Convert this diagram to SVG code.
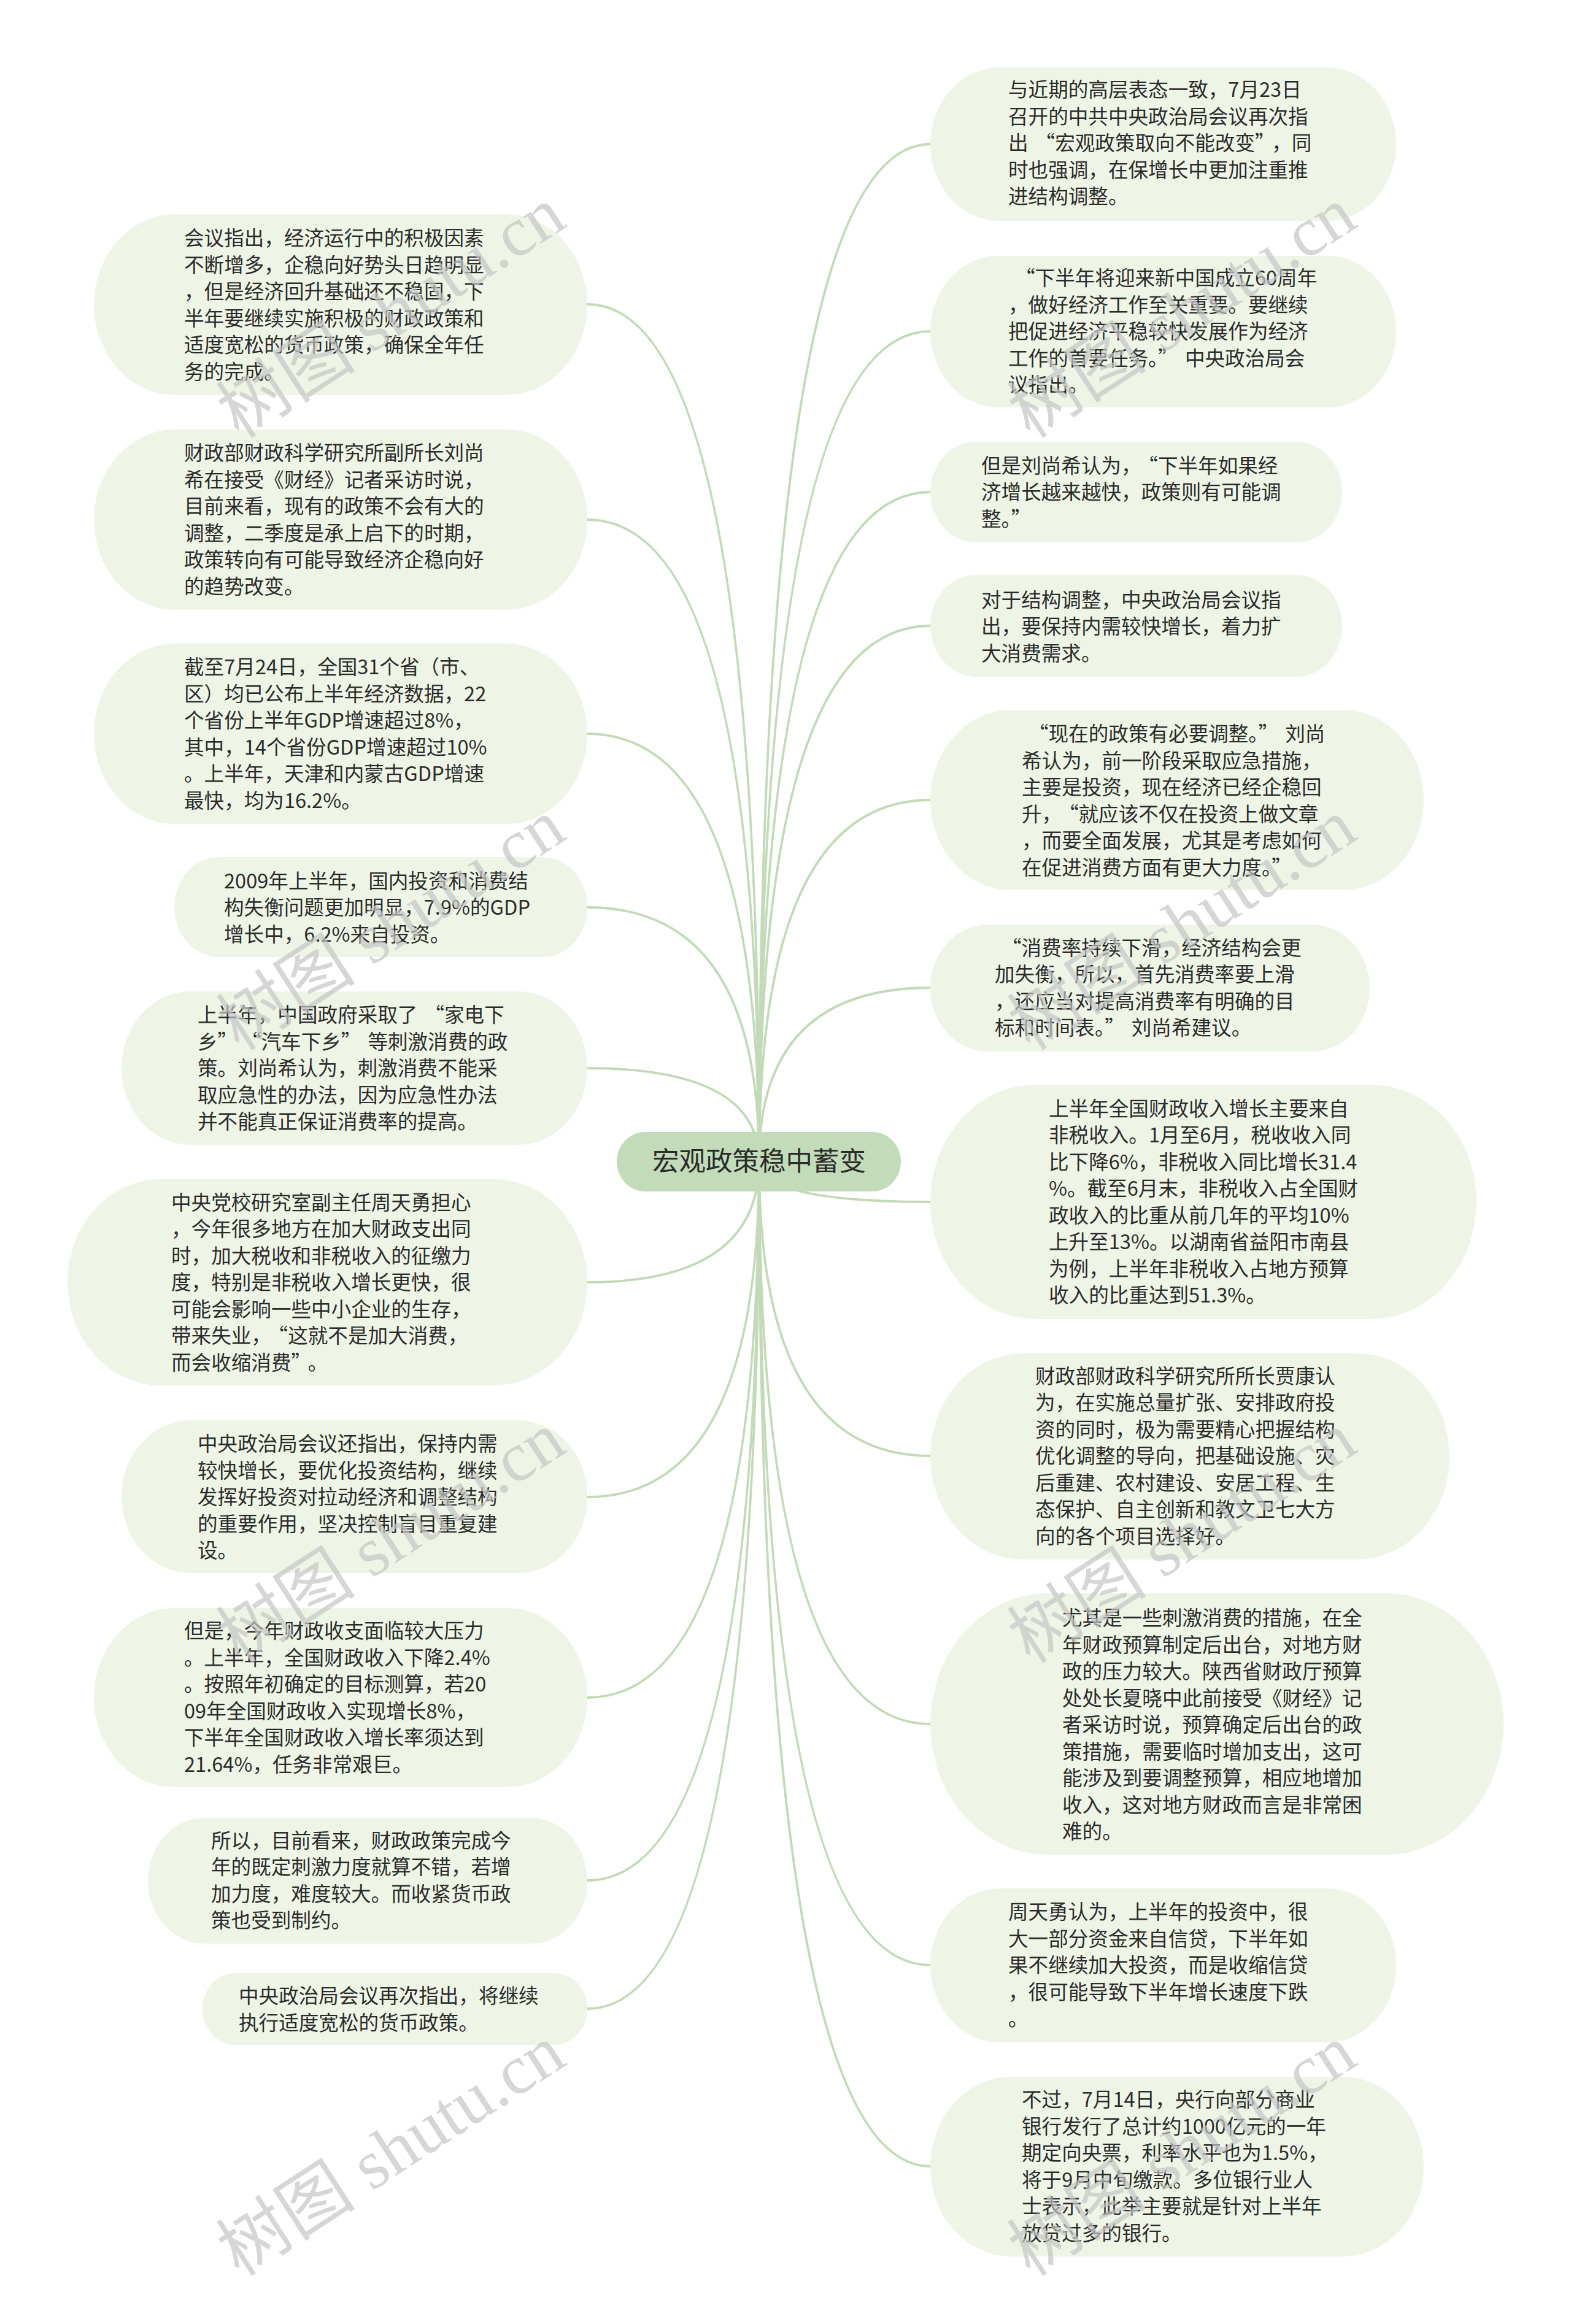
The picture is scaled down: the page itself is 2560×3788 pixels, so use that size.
<svg xmlns="http://www.w3.org/2000/svg" width="2560" height="3788" viewBox="0 0 2560 3788">
<style>
.bg{fill:#ffffff}
.node{fill:#eef5e6}
.root{fill:#c2dbb9}
.t{font-family:"Noto Sans CJK SC","Liberation Sans",sans-serif;font-size:32.6px;fill:#2b2b2b}
.rt{font-family:"Noto Sans CJK SC","Liberation Sans",sans-serif;font-size:43.5px;fill:#2b2b2b}
.c{fill:none;stroke:#c2dab8;stroke-width:3.8;stroke-linecap:round}
.wm{font-family:"Liberation Serif","Noto Sans CJK SC",serif;font-size:114px;fill:#c4c4c4;fill-opacity:0.7}
</style>
<rect class="bg" x="0" y="0" width="2560" height="3788"/>
<g id="connectors">
<path class="c" d="M1237,1893 Q1237,235 1516,235"/>
<path class="c" d="M1237,1893 Q1237,540 1516,540"/>
<path class="c" d="M1237,1893 Q1237,802 1516,802"/>
<path class="c" d="M1237,1893 Q1237,1020 1516,1020"/>
<path class="c" d="M1237,1893 Q1237,1304 1516,1304"/>
<path class="c" d="M1237,1893 Q1237,1610 1516,1610"/>
<path class="c" d="M1237,1893 Q1237,1959 1516,1959"/>
<path class="c" d="M1237,1893 Q1237,2373 1516,2373"/>
<path class="c" d="M1237,1893 Q1237,2810 1516,2810"/>
<path class="c" d="M1237,1893 Q1237,3203 1516,3203"/>
<path class="c" d="M1237,1893 Q1237,3531 1516,3531"/>
<path class="c" d="M1237,1893 Q1237,496 957,496"/>
<path class="c" d="M1237,1893 Q1237,847 957,847"/>
<path class="c" d="M1237,1893 Q1237,1196 957,1196"/>
<path class="c" d="M1237,1893 Q1237,1479 957,1479"/>
<path class="c" d="M1237,1893 Q1237,1741 957,1741"/>
<path class="c" d="M1237,1893 Q1237,2090 957,2090"/>
<path class="c" d="M1237,1893 Q1237,2440 957,2440"/>
<path class="c" d="M1237,1893 Q1237,2767 957,2767"/>
<path class="c" d="M1237,1893 Q1237,3065 957,3065"/>
<path class="c" d="M1237,1893 Q1237,3274 957,3274"/>
</g>
<g id="root">
<rect class="root" x="1005" y="1845" width="463" height="97" rx="46" ry="48.5"/>
<text class="rt" x="1237" y="1908" text-anchor="middle">宏观政策稳中蓄变</text>
</g>
<g id="r1">
<rect class="node" x="1516" y="110" width="759" height="250" rx="112" ry="125"/>
<text class="t"><tspan x="1643" y="158">与近期的高层表态一致，7月23日</tspan><tspan x="1643" y="201.5">召开的中共中央政治局会议再次指</tspan><tspan x="1643" y="245">出<tspan dx="11">“</tspan>宏观政策取向不能改变”<tspan dx="11">，同</tspan></tspan><tspan x="1643" y="288.5">时也强调，在保增长中更加注重推</tspan><tspan x="1643" y="332">进结构调整。</tspan></text>
</g>
<g id="r2">
<rect class="node" x="1516" y="417" width="759" height="247" rx="111" ry="123.5"/>
<text class="t"><tspan x="1654" y="465">“下半年将迎来新中国成立60周年</tspan><tspan x="1643" y="508.5">，做好经济工作至关重要。要继续</tspan><tspan x="1643" y="552">把促进经济平稳较快发展作为经济</tspan><tspan x="1643" y="595.5">工作的首要任务。”<tspan dx="11">中央政治局会</tspan></tspan><tspan x="1643" y="639">议指出。</tspan></text>
</g>
<g id="r3">
<rect class="node" x="1516" y="720" width="671" height="164" rx="74" ry="82"/>
<text class="t"><tspan x="1599" y="770.5">但是刘尚希认为，<tspan dx="11">“</tspan>下半年如果经</tspan><tspan x="1599" y="814">济增长越来越快，政策则有可能调</tspan><tspan x="1599" y="857.5">整。”</tspan></text>
</g>
<g id="r4">
<rect class="node" x="1516" y="937" width="671" height="166" rx="75" ry="83"/>
<text class="t"><tspan x="1599" y="989.5">对于结构调整，中央政治局会议指</tspan><tspan x="1599" y="1033">出，要保持内需较快增长，着力扩</tspan><tspan x="1599" y="1076.5">大消费需求。</tspan></text>
</g>
<g id="r5">
<rect class="node" x="1516" y="1157" width="804" height="294" rx="132" ry="147"/>
<text class="t"><tspan x="1676" y="1208">“现在的政策有必要调整。”<tspan dx="11">刘尚</tspan></tspan><tspan x="1665" y="1251.5">希认为，前一阶段采取应急措施，</tspan><tspan x="1665" y="1295">主要是投资，现在经济已经企稳回</tspan><tspan x="1665" y="1338.5">升，<tspan dx="11">“</tspan>就应该不仅在投资上做文章</tspan><tspan x="1665" y="1382">，而要全面发展，尤其是考虑如何</tspan><tspan x="1665" y="1425.5">在促进消费方面有更大力度。”</tspan></text>
</g>
<g id="r6">
<rect class="node" x="1516" y="1507" width="716" height="207" rx="93" ry="103.5"/>
<text class="t"><tspan x="1632" y="1556.75">“消费率持续下滑，经济结构会更</tspan><tspan x="1621" y="1600.25">加失衡，所以，首先消费率要上滑</tspan><tspan x="1621" y="1643.75">，还应当对提高消费率有明确的目</tspan><tspan x="1621" y="1687.25">标和时间表。”<tspan dx="11">刘尚希建议。</tspan></tspan></text>
</g>
<g id="r7">
<rect class="node" x="1516" y="1768" width="890" height="382" rx="172" ry="191"/>
<text class="t"><tspan x="1709" y="1818.75">上半年全国财政收入增长主要来自</tspan><tspan x="1709" y="1862.25">非税收入。1月至6月，税收收入同</tspan><tspan x="1709" y="1905.75">比下降6%，非税收入同比增长31.4</tspan><tspan x="1709" y="1949.25">%。截至6月末，非税收入占全国财</tspan><tspan x="1709" y="1992.75">政收入的比重从前几年的平均10%</tspan><tspan x="1709" y="2036.25">上升至13%。以湖南省益阳市南县</tspan><tspan x="1709" y="2079.75">为例，上半年非税收入占地方预算</tspan><tspan x="1709" y="2123.25">收入的比重达到51.3%。</tspan></text>
</g>
<g id="r8">
<rect class="node" x="1516" y="2206" width="846" height="336" rx="151" ry="168"/>
<text class="t"><tspan x="1687" y="2254.5">财政部财政科学研究所所长贾康认</tspan><tspan x="1687" y="2298">为，在实施总量扩张、安排政府投</tspan><tspan x="1687" y="2341.5">资的同时，极为需要精心把握结构</tspan><tspan x="1687" y="2385">优化调整的导向，把基础设施、灾</tspan><tspan x="1687" y="2428.5">后重建、农村建设、安居工程、生</tspan><tspan x="1687" y="2472">态保护、自主创新和教文卫七大方</tspan><tspan x="1687" y="2515.5">向的各个项目选择好。</tspan></text>
</g>
<g id="r9">
<rect class="node" x="1516" y="2597" width="934" height="426" rx="192" ry="213"/>
<text class="t"><tspan x="1731" y="2649">尤其是一些刺激消费的措施，在全</tspan><tspan x="1731" y="2692.5">年财政预算制定后出台，对地方财</tspan><tspan x="1731" y="2736">政的压力较大。陕西省财政厅预算</tspan><tspan x="1731" y="2779.5">处处长夏晓中此前接受《财经》记</tspan><tspan x="1731" y="2823">者采访时说，预算确定后出台的政</tspan><tspan x="1731" y="2866.5">策措施，需要临时增加支出，这可</tspan><tspan x="1731" y="2910">能涉及到要调整预算，相应地增加</tspan><tspan x="1731" y="2953.5">收入，这对地方财政而言是非常困</tspan><tspan x="1731" y="2997">难的。</tspan></text>
</g>
<g id="r10">
<rect class="node" x="1516" y="3078" width="759" height="251" rx="113" ry="125.5"/>
<text class="t"><tspan x="1643" y="3128">周天勇认为，上半年的投资中，很</tspan><tspan x="1643" y="3171.5">大一部分资金来自信贷，下半年如</tspan><tspan x="1643" y="3215">果不继续加大投资，而是收缩信贷</tspan><tspan x="1643" y="3258.5">，很可能导致下半年增长速度下跌</tspan><tspan x="1643" y="3302">。</tspan></text>
</g>
<g id="r11">
<rect class="node" x="1516" y="3385" width="804" height="293" rx="132" ry="146.5"/>
<text class="t"><tspan x="1665" y="3434.25">不过，7月14日，央行向部分商业</tspan><tspan x="1665" y="3477.75">银行发行了总计约1000亿元的一年</tspan><tspan x="1665" y="3521.25">期定向央票，利率水平也为1.5%，</tspan><tspan x="1665" y="3564.75">将于9月中旬缴款。多位银行业人</tspan><tspan x="1665" y="3608.25">士表示，此举主要就是针对上半年</tspan><tspan x="1665" y="3651.75">放贷过多的银行。</tspan></text>
</g>
<g id="l1">
<rect class="node" x="153" y="349" width="804" height="295" rx="133" ry="147.5"/>
<text class="t"><tspan x="300" y="400.25">会议指出，经济运行中的积极因素</tspan><tspan x="300" y="443.75">不断增多，企稳向好势头日趋明显</tspan><tspan x="300" y="487.25">，但是经济回升基础还不稳固，下</tspan><tspan x="300" y="530.75">半年要继续实施积极的财政政策和</tspan><tspan x="300" y="574.25">适度宽松的货币政策，确保全年任</tspan><tspan x="300" y="617.75">务的完成。</tspan></text>
</g>
<g id="l2">
<rect class="node" x="153" y="700" width="804" height="294" rx="132" ry="147"/>
<text class="t"><tspan x="300" y="750.25">财政部财政科学研究所副所长刘尚</tspan><tspan x="300" y="793.75">希在接受《财经》记者采访时说，</tspan><tspan x="300" y="837.25">目前来看，现有的政策不会有大的</tspan><tspan x="300" y="880.75">调整，二季度是承上启下的时期，</tspan><tspan x="300" y="924.25">政策转向有可能导致经济企稳向好</tspan><tspan x="300" y="967.75">的趋势改变。</tspan></text>
</g>
<g id="l3">
<rect class="node" x="153" y="1049" width="804" height="294" rx="132" ry="147"/>
<text class="t"><tspan x="300" y="1099.25">截至7月24日，全国31个省（市、</tspan><tspan x="300" y="1142.75">区）均已公布上半年经济数据，22</tspan><tspan x="300" y="1186.25">个省份上半年GDP增速超过8%，</tspan><tspan x="300" y="1229.75">其中，14个省份GDP增速超过10%</tspan><tspan x="300" y="1273.25">。上半年，天津和内蒙古GDP增速</tspan><tspan x="300" y="1316.75">最快，均为16.2%。</tspan></text>
</g>
<g id="l4">
<rect class="node" x="284" y="1397" width="673" height="163" rx="73" ry="81.5"/>
<text class="t"><tspan x="365" y="1447.5">2009年上半年，国内投资和消费结</tspan><tspan x="365" y="1491">构失衡问题更加明显，7.9%的GDP</tspan><tspan x="365" y="1534.5">增长中，6.2%来自投资。</tspan></text>
</g>
<g id="l5">
<rect class="node" x="198" y="1616" width="759" height="250" rx="112" ry="125"/>
<text class="t"><tspan x="322" y="1666">上半年，中国政府采取了<tspan dx="11">“</tspan>家电下</tspan><tspan x="322" y="1709.5">乡”<tspan dx="22">“</tspan>汽车下乡”<tspan dx="11">等刺激消费的政</tspan></tspan><tspan x="322" y="1753">策。刘尚希认为，刺激消费不能采</tspan><tspan x="322" y="1796.5">取应急性的办法，因为应急性办法</tspan><tspan x="322" y="1840">并不能真正保证消费率的提高。</tspan></text>
</g>
<g id="l6">
<rect class="node" x="110" y="1922" width="847" height="336" rx="151" ry="168"/>
<text class="t"><tspan x="279" y="1971.5">中央党校研究室副主任周天勇担心</tspan><tspan x="279" y="2015">，今年很多地方在加大财政支出同</tspan><tspan x="279" y="2058.5">时，加大税收和非税收入的征缴力</tspan><tspan x="279" y="2102">度，特别是非税收入增长更快，很</tspan><tspan x="279" y="2145.5">可能会影响一些中小企业的生存，</tspan><tspan x="279" y="2189">带来失业，<tspan dx="11">“</tspan>这就不是加大消费，</tspan><tspan x="279" y="2232.5">而会收缩消费”<tspan dx="11">。</tspan></tspan></text>
</g>
<g id="l7">
<rect class="node" x="198" y="2315" width="759" height="249" rx="112" ry="124.5"/>
<text class="t"><tspan x="322" y="2365">中央政治局会议还指出，保持内需</tspan><tspan x="322" y="2408.5">较快增长，要优化投资结构，继续</tspan><tspan x="322" y="2452">发挥好投资对拉动经济和调整结构</tspan><tspan x="322" y="2495.5">的重要作用，坚决控制盲目重复建</tspan><tspan x="322" y="2539">设。</tspan></text>
</g>
<g id="l8">
<rect class="node" x="153" y="2621" width="804" height="292" rx="131" ry="146"/>
<text class="t"><tspan x="300" y="2670.25">但是，今年财政收支面临较大压力</tspan><tspan x="300" y="2713.75">。上半年，全国财政收入下降2.4%</tspan><tspan x="300" y="2757.25">。按照年初确定的目标测算，若20</tspan><tspan x="300" y="2800.75">09年全国财政收入实现增长8%，</tspan><tspan x="300" y="2844.25">下半年全国财政收入增长率须达到</tspan><tspan x="300" y="2887.75">21.64%，任务非常艰巨。</tspan></text>
</g>
<g id="l9">
<rect class="node" x="241" y="2963" width="716" height="205" rx="92" ry="102.5"/>
<text class="t"><tspan x="344" y="3011.75">所以，目前看来，财政政策完成今</tspan><tspan x="344" y="3055.25">年的既定刺激力度就算不错，若增</tspan><tspan x="344" y="3098.75">加力度，难度较大。而收紧货币政</tspan><tspan x="344" y="3142.25">策也受到制约。</tspan></text>
</g>
<g id="l10">
<rect class="node" x="330" y="3216" width="627" height="117" rx="53" ry="58.5"/>
<text class="t"><tspan x="389" y="3265.25">中央政治局会议再次指出，将继续</tspan><tspan x="389" y="3308.75">执行适度宽松的货币政策。</tspan></text>
</g>
<g id="watermarks">
<text class="wm" x="644" y="520" text-anchor="middle" dominant-baseline="middle" transform="rotate(-33 644 520)">树图 shutu.cn</text>
<text class="wm" x="1933" y="520" text-anchor="middle" dominant-baseline="middle" transform="rotate(-33 1933 520)">树图 shutu.cn</text>
<text class="wm" x="644" y="1518" text-anchor="middle" dominant-baseline="middle" transform="rotate(-33 644 1518)">树图 shutu.cn</text>
<text class="wm" x="1933" y="1518" text-anchor="middle" dominant-baseline="middle" transform="rotate(-33 1933 1518)">树图 shutu.cn</text>
<text class="wm" x="644" y="2517" text-anchor="middle" dominant-baseline="middle" transform="rotate(-33 644 2517)">树图 shutu.cn</text>
<text class="wm" x="1933" y="2517" text-anchor="middle" dominant-baseline="middle" transform="rotate(-33 1933 2517)">树图 shutu.cn</text>
<text class="wm" x="644" y="3516" text-anchor="middle" dominant-baseline="middle" transform="rotate(-33 644 3516)">树图 shutu.cn</text>
<text class="wm" x="1933" y="3516" text-anchor="middle" dominant-baseline="middle" transform="rotate(-33 1933 3516)">树图 shutu.cn</text>
</g>
</svg>
